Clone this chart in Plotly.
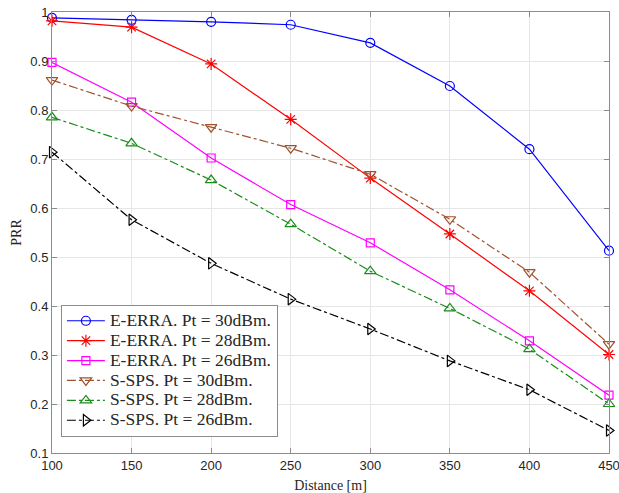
import plotly.graph_objects as go

distance = [100, 150, 200, 250, 300, 350, 400, 450]
eerra_30 = [0.988, 0.984, 0.980, 0.974, 0.937, 0.849, 0.720, 0.513]
eerra_28 = [0.982, 0.969, 0.894, 0.781, 0.661, 0.547, 0.431, 0.301]
eerra_26 = [0.897, 0.816, 0.702, 0.607, 0.529, 0.433, 0.329, 0.218]
ssps_30 = [0.861, 0.808, 0.765, 0.722, 0.669, 0.577, 0.469, 0.322]
ssps_28 = [0.785, 0.732, 0.657, 0.567, 0.471, 0.395, 0.312, 0.200]
ssps_26 = [0.714, 0.576, 0.487, 0.414, 0.353, 0.288, 0.229, 0.146]

names = ["E-ERRA. Pt = 30dBm.", "E-ERRA. Pt = 28dBm.", "E-ERRA. Pt = 26dBm.",
         "S-SPS. Pt = 30dBm.", "S-SPS. Pt = 28dBm.", "S-SPS. Pt = 26dBm."]
series = [eerra_30, eerra_28, eerra_26, ssps_30, ssps_28, ssps_26]
colors = ["#0000ff", "#ff0000", "#ff00ff", "#a0522d", "#1a8c1a", "#000000"]
symbols = ["circle-open", "asterisk-open", "square-open",
           "triangle-down-open", "triangle-up-open", "triangle-right-open"]
sizes = [9, 10, 8, 10, 10, 10]
dashes = ["solid", "solid", "solid", "dashdot", "dashdot", "dashdot"]

fig = go.Figure()
for n, s, c, sym, sz, d in zip(names, series, colors, symbols, sizes, dashes):
    fig.add_trace(go.Scatter(
        x=distance, y=s, name='<span style="font-size:17.5px">' + n + '</span>',
        mode="lines+markers", cliponaxis=False,
        line=dict(color=c, width=1.2, dash=d),
        marker=dict(symbol=sym, size=sz, color=c, line=dict(color=c, width=1.2)),
    ))

axis_common = dict(
    showline=True, linecolor="#8c8c8c", linewidth=1, mirror="ticks",
    ticks="inside", ticklen=5, tickcolor="#8c8c8c",
    showgrid=True, gridcolor="#e6e6e6", gridwidth=1, zeroline=False,
    automargin=False, ticklabeloverflow="allow",
    tickfont=dict(family="Liberation Sans, Arial, sans-serif", size=13, color="#262626"),
)

fig.update_xaxes(range=[100, 450], tickvals=[100, 150, 200, 250, 300, 350, 400, 450],
                 title=dict(text="Distance [m]", standoff=9,
                            font=dict(family="Liberation Serif, Times New Roman, serif", size=14, color="#262626")),
                 **axis_common)
fig.update_yaxes(range=[0.1, 1.0], tickvals=[0.1, 0.2, 0.3, 0.4, 0.5, 0.6, 0.7, 0.8, 0.9, 1.0],
                 ticktext=["0.1", "0.2", "0.3", "0.4", "0.5", "0.6", "0.7", "0.8", "0.9", "1"],
                 title=dict(text="PRR", standoff=5,
                            font=dict(family="Liberation Serif, Times New Roman, serif", size=14, color="#262626")),
                 **axis_common)

fig.update_layout(
    width=619, height=493,
    margin=dict(l=52, r=10, t=12, b=40, autoexpand=False),
    paper_bgcolor="white", plot_bgcolor="white",
    legend=dict(x=0.016, y=0.336, xanchor="left", yanchor="top",
                bgcolor="white", bordercolor="#8c8c8c", borderwidth=1,
                font=dict(family="Liberation Serif, Times New Roman, serif", size=13, color="#262626"),
                tracegroupgap=0, itemwidth=38),
    showlegend=True,
)

fig.write_html("out.html", config={"displayModeBar": False},
               post_script="document.body.style.margin='0';document.body.style.overflow='hidden';")
